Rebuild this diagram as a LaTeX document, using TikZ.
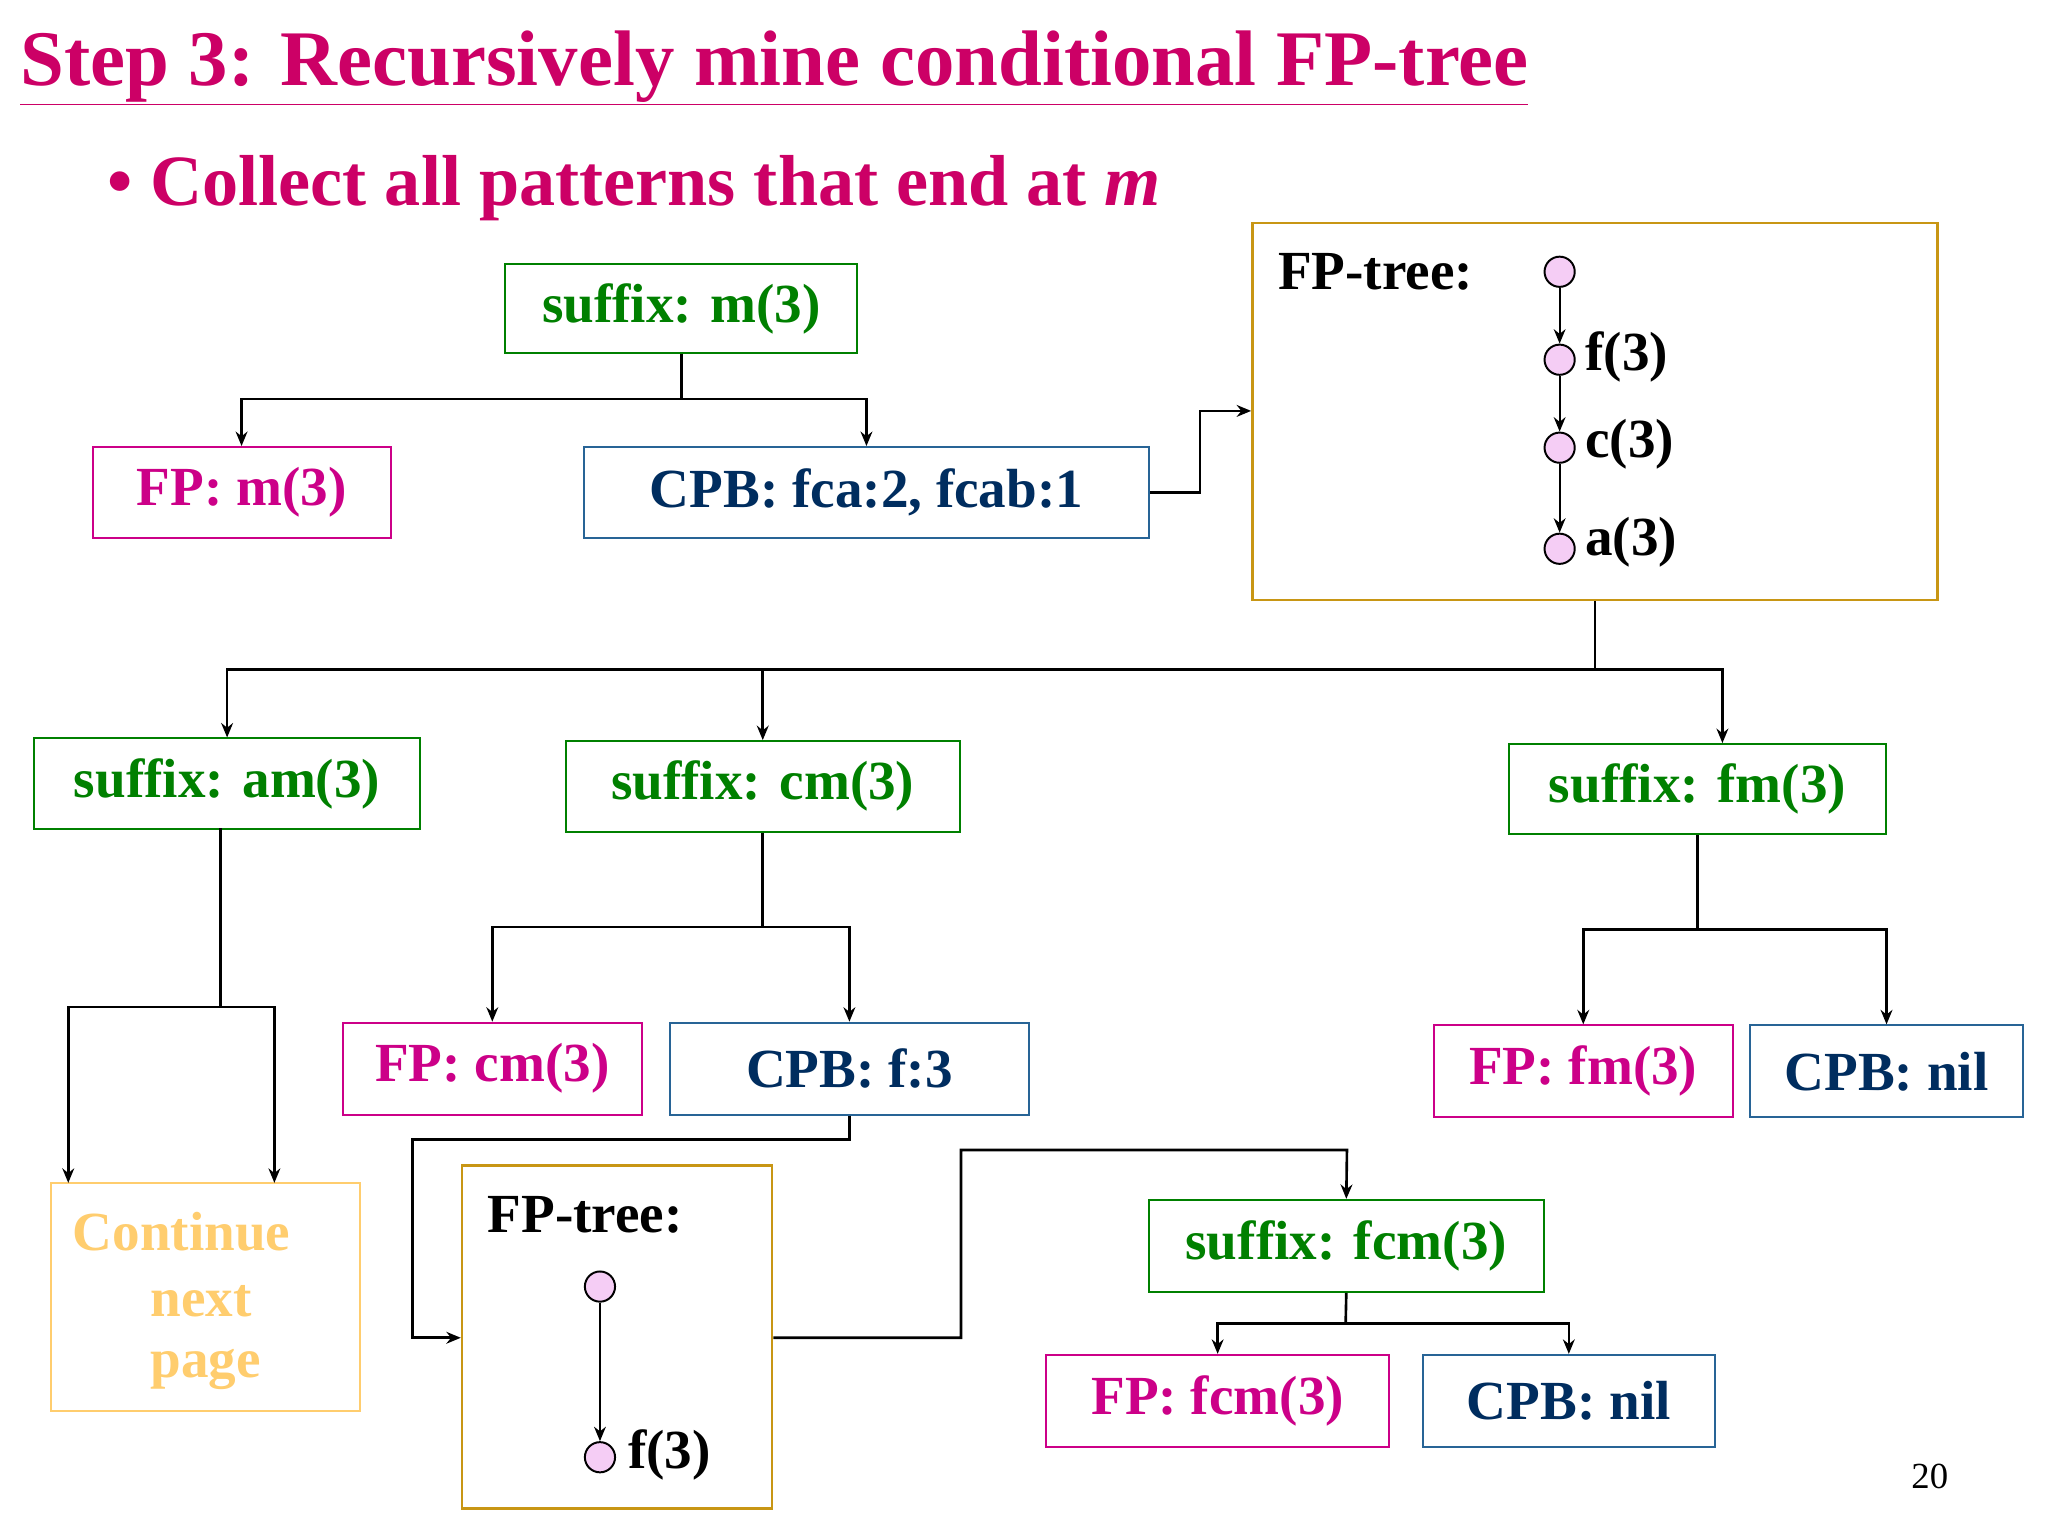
\documentclass[tikz,border=0pt]{standalone}
\usepackage{fontspec}
\setmainfont{Liberation Serif}
\usetikzlibrary{arrows.meta}
\definecolor{tgreen}{RGB}{0,128,0}
\definecolor{tmag}{RGB}{204,0,136}
\definecolor{ttitle}{RGB}{204,0,102}
\definecolor{tnavy}{RGB}{0,45,95}
\definecolor{tsteel}{RGB}{40,100,150}
\definecolor{tgold}{RGB}{200,150,20}
\definecolor{tlight}{RGB}{255,205,110}
\definecolor{tdot}{RGB}{245,205,245}
\tikzset{
 box/.style={draw, line width=1.5pt, inner sep=0pt, font=\fontsize{42}{46}\selectfont\bfseries},
 sbox/.style={box, draw=tgreen, text=tgreen},
 fbox/.style={box, draw=tmag, text=tmag},
 cbox/.style={box, draw=tsteel, text=tnavy},
 tbox/.style={draw=tgold, line width=2pt, inner sep=0pt},
 lbl/.style={font=\fontsize{42}{46}\selectfont\bfseries},
 dot/.style={circle, draw, fill=tdot, line width=1.5pt, minimum size=23pt, inner sep=0pt},
 con/.style={line width=2pt},
 arr/.style={con, -{Stealth[length=11pt,width=9pt]}}
}
\begin{document}
\begin{tikzpicture}[x=1pt,y=-1pt]
\useasboundingbox[fill=white] (0,0) rectangle (1560,1170);
\node[anchor=west, text=ttitle, font=\fontsize{60}{64}\selectfont\bfseries] (title) at (12,52) {\underline{Step 3: Recursively mine conditional FP-tree}};
\node[anchor=west, text=ttitle, font=\fontsize{55}{60}\selectfont\bfseries] (bul) at (78,143) {\textbullet\ Collect all patterns that end at \textit{m}};
% top
\node[sbox, minimum width=268, minimum height=68] (s1) at (519,235) {suffix: m(3)};
\node[fbox, minimum width=227, minimum height=69] (fp1) at (184,375) {FP: m(3)};
\node[cbox, minimum width=431, minimum height=69] (cpb1) at (660,375) {CPB: fca:2, fcab:1};
\node[tbox, minimum width=522, minimum height=287] (t1) at (1215,313.5) {};
\node[lbl, anchor=west] (t1l) at (970,207) {FP-tree:};
\node[dot] (n0) at (1188,207) {};
\node[dot] (n1) at (1188,274) {};
\node[dot] (n2) at (1188,341) {};
\node[dot] (n3) at (1188,418) {};
\node[lbl, anchor=west] (l1) at (1204,272) {f(3)};
\node[lbl, anchor=west] (l2) at (1204,338) {c(3)};
\node[lbl, anchor=west] (l3) at (1204,413) {a(3)};
\draw[arr, line width=1.5pt] (n0) -- (n1);
\draw[arr, line width=1.5pt] (n1) -- (n2);
\draw[arr, line width=1.5pt] (n2) -- (n3);
\draw[con] (s1.south) -- (519,304);
\draw[arr] (519,304) -| (fp1.north);
\draw[arr] (519,304) -| (cpb1.north);
\draw[arr] (cpb1.east) -- (914,375) |- (t1.west |- 0,313);
% middle
\node[sbox, minimum width=294, minimum height=69] (am) at (173,597) {suffix: am(3)};
\node[sbox, minimum width=300, minimum height=69] (cm) at (581,599) {suffix: cm(3)};
\node[sbox, minimum width=287, minimum height=69] (fm) at (1293,601) {suffix: fm(3)};
\draw[con] (t1.south) -- (1215,510);
\draw[arr] (1215,510) -| (am.north);
\draw[arr] (1215,510) -| (cm.north);
\draw[arr] (1215,510) -| (1312,566);
% am branch
\node[draw=tlight, line width=1.5pt, minimum width=235, minimum height=174] (cont) at (156.5,988) {};
\node[lbl, text=tlight, anchor=west] (c1) at (52,938) {Continue};
\node[lbl, text=tlight, anchor=west] (c2) at (111,991) {next};
\node[lbl, text=tlight, anchor=west] (c3) at (111,1043) {page};
\draw[con] (168,631) -- (168,767);
\draw[arr] (168,767) -| (52,901);
\draw[arr] (168,767) -| (209,901);
% cm branch
\node[fbox, minimum width=228, minimum height=70] (fp2) at (375,814) {FP: cm(3)};
\node[cbox, minimum width=274, minimum height=70] (cpb2) at (647,814) {CPB: f:3};
\draw[con] (cm.south) -- (581,706);
\draw[arr] (581,706) -| (fp2.north);
\draw[arr] (581,706) -| (cpb2.north);
\node[tbox, minimum width=236, minimum height=261] (t2) at (470,1018.5) {};
\node[lbl, anchor=west] (t2l) at (368,925) {FP-tree:};
\node[dot] (m0) at (457,980) {};
\node[dot] (m1) at (457,1110) {};
\node[lbl, anchor=west] (ml) at (475,1108) {f(3)};
\draw[arr, line width=1.5pt] (m0) -- (m1);
\draw[arr] (cpb2.south) -- (647,868) -| (314,1019) -- (t2.west |- 0,1019);
\node[sbox, minimum width=301, minimum height=70] (fcm) at (1025.5,949) {suffix: fcm(3)};
\draw[arr] (t2.east |- 0,1019) -- (732,1019) |- (1026,876) -- (fcm.north);
\node[fbox, minimum width=261, minimum height=70] (fp3) at (927.5,1067) {FP: fcm(3)};
\node[cbox, minimum width=222, minimum height=70] (cpb3) at (1195,1067) {CPB: nil};
\draw[con] (fcm.south) -- (1025,1008);
\draw[arr] (1025,1008) -| (fp3.north);
\draw[arr] (1025,1008) -| (cpb3.north);
% fm branch
\node[fbox, minimum width=228, minimum height=70] (fp4) at (1206,816) {FP: fm(3)};
\node[cbox, minimum width=208, minimum height=70] (cpb4) at (1437,816) {CPB: nil};
\draw[con] (fm.south) -- (1293,708);
\draw[arr] (1293,708) -| (fp4.north);
\draw[arr] (1293,708) -| (cpb4.north);
\node[font=\fontsize{28}{32}\selectfont] (pg) at (1470,1125) {20};
\end{tikzpicture}
\end{document}
